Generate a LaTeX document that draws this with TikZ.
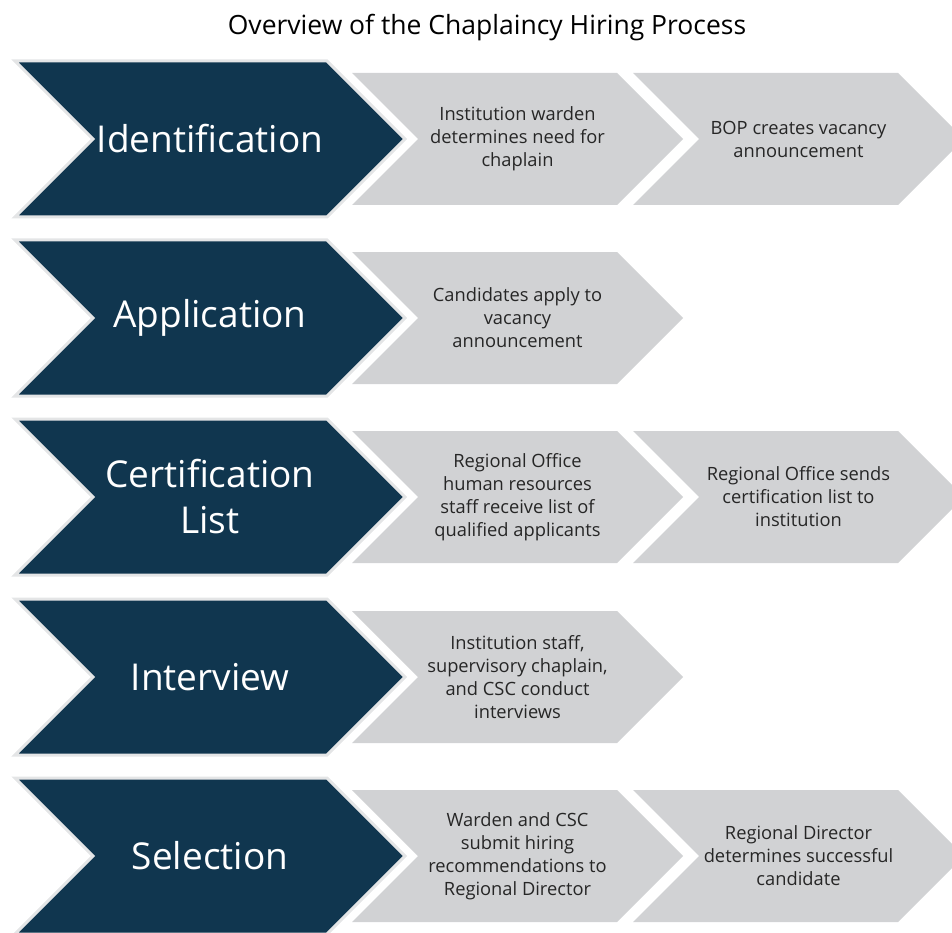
\documentclass[tikz,border=0pt]{standalone}
\usepackage{fontspec}
\setmainfont{Open Sans}
\usepackage{tikz}

\definecolor{navy}{HTML}{10364F}
\definecolor{edgegray}{HTML}{E4E5E6}
\definecolor{stepgray}{HTML}{D1D2D4}
\definecolor{inkgray}{HTML}{262626}

\tikzset{
  darktext/.style = {text=white, align=center, font=\fontsize{37}{46}\selectfont},
  graytext/.style = {text=inkgray, align=center, font=\fontsize{18.3}{23}\selectfont},
  darkarrow/.pic = {
    \fill[navy, draw=edgegray, line width=3pt]
      (-195,78) -- (117,78) -- (195,0) -- (117,-78) -- (-195,-78) -- (-117,0) -- cycle;
    \node[darktext] (-t) at (0,0) {#1};
  },
  grayarrow/.pic = {
    \fill[stepgray]
      (-165.5,66) -- (99.5,66) -- (165.5,0) -- (99.5,-66) -- (-165.5,-66) -- (-99.5,0) -- cycle;
    \node[graytext] (-t) at (0,0) {#1};
  }
}

\begin{document}
\begin{tikzpicture}[x=1pt, y=1pt]
\useasboundingbox (0,0) rectangle (952,-933);
\node[font=\fontsize{26.5}{30}\selectfont] (title) at (487,-28) {Overview of the Chaplaincy Hiring Process};

% identification
\pic (ident) at (210,-139) {darkarrow=Identification};
\pic (warden) at (517.5,-139) {grayarrow={Institution warden\\determines need for\\chaplain}};
\pic (vacancy) at (798.5,-139) {grayarrow={BOP creates vacancy\\announcement}};

% application
\pic (appl) at (210,-318) {darkarrow=Application};
\pic (apply) at (517.5,-318) {grayarrow={Candidates apply to\\vacancy\\announcement}};

% certification list
\pic (cert) at (210,-497) {darkarrow={Certification\\List}};
\pic (receive) at (517.5,-497) {grayarrow={Regional Office\\human resources\\staff receive list of\\qualified applicants}};
\pic (sends) at (798.5,-497) {grayarrow={Regional Office sends\\certification list to\\institution}};

% interview
\pic (inter) at (210,-677) {darkarrow=Interview};
\pic (conduct) at (517.5,-677) {grayarrow={Institution staff,\\supervisory chaplain,\\and CSC conduct\\interviews}};

% selection
\pic (select) at (210,-856) {darkarrow=Selection};
\pic (submit) at (517.5,-856) {grayarrow={Warden and CSC\\submit hiring\\recommendations to\\Regional Director}};
\pic (decide) at (798.5,-856) {grayarrow={Regional Director\\determines successful\\candidate}};
\end{tikzpicture}
\end{document}
